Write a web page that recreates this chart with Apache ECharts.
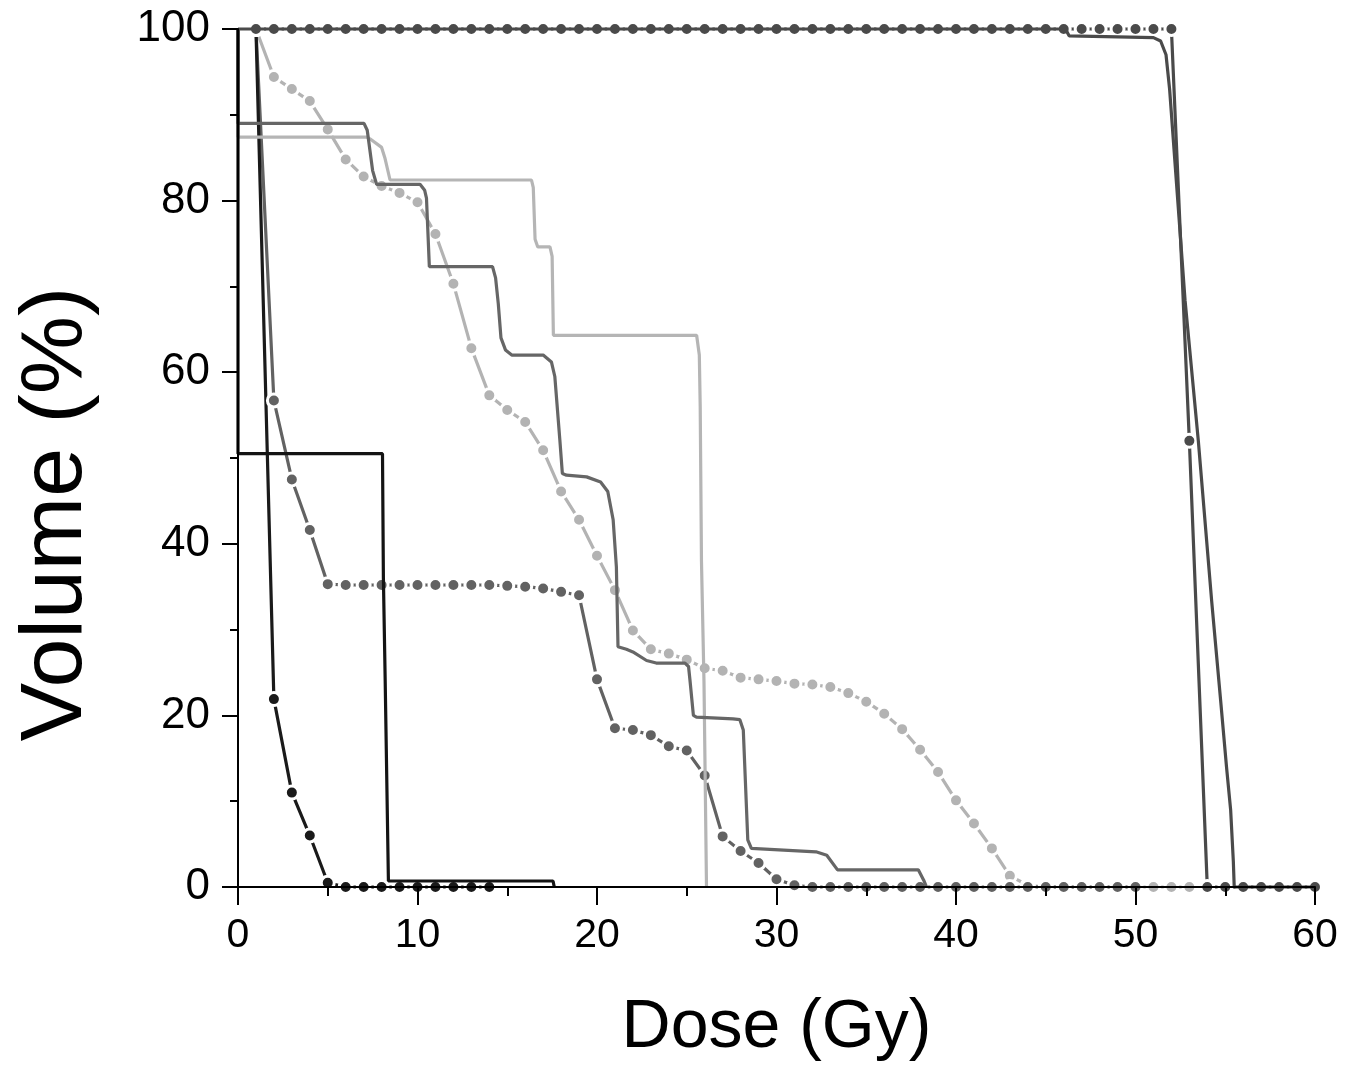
<!DOCTYPE html>
<html>
<head>
<meta charset="utf-8">
<script src="https://cdn.jsdelivr.net/npm/echarts@6/dist/echarts.min.js"></script>
<style>
html,body{margin:0;padding:0;background:#fff;}
#chart{width:1358px;height:1068px;}
</style>
</head>
<body>
<div id="chart"></div>
<script>
// Axis ticks
const xTicks = [0, 10, 20, 30, 40, 50, 60];
const yTicks = [0, 20, 40, 60, 80, 100];
const xTitle = 'Dose (Gy)';
const yTitle = 'Volume (%)';

// Dose bins (Gy) for the marker series
const binDose = [1,2,3,4,5,6,7,8,9,10,11,12,13,14,15,16,17,18,19,20,21,22,23,24,25,26,27,28,29,30,
  31,32,33,34,35,36,37,38,39,40,41,42,43,44,45,46,47,48,49,50,51,52,53,54,55,56,57,58,59,60];

// A: dark gray with markers
const volA = [100,100,100,100,100,100,100,100,100,100,100,100,100,100,100,100,100,100,100,100,
  100,100,100,100,100,100,100,100,100,100,100,100,100,100,100,100,100,100,100,100,
  100,100,100,100,100,100,100,100,100,100,100,100,52,0,0,0,0,0,0,0];
// C: medium gray with markers
const volC = [100,56.7,47.5,41.6,35.3,35.2,35.2,35.2,35.2,35.2,35.2,35.2,35.2,35.2,35.1,35.0,34.8,34.4,34.0,24.2,
  18.5,18.3,17.7,16.4,15.9,13.0,5.9,4.2,2.8,0.9,0.2,0,0,0,0,0,0,0,0,0,0,0,0,0,0,0,0,0,0,0];
// D: light gray with markers
const volD = [100,94.4,93.0,91.6,88.3,84.8,82.8,81.7,80.9,79.8,76.1,70.3,62.8,57.3,55.6,54.2,50.9,46.1,42.8,38.6,
  34.6,29.9,27.7,27.2,26.5,25.5,25.2,24.4,24.2,24.0,23.7,23.6,23.3,22.6,21.6,20.2,18.4,16.0,13.4,10.1,
  7.4,4.5,1.3,0.2,0,0,0,0,0,0,0,0,0];
// E: black with markers
const volE = [100,21.9,11.0,6.0,0.5,0,0,0,0,0,0,0,0,0];

// B: dark gray solid
const doseB = [0,46.1,46.3,51.0,51.4,51.7,51.9,52.76,53.5,54.24,54.74,55.07,55.3,55.45,55.5,60];
const volB  = [100,100,99.2,99.0,98.6,97,93,68.4,52,33.4,21.8,14,9,3,0,0];
// F: black solid
const doseF = [0,0,8.05,8.1,8.2,8.38,17.55,17.62];
const volF  = [100,50.5,50.5,36,24,0.7,0.7,0];
// G: medium gray solid
const doseG = [0,0,7.02,7.2,7.5,7.72,10.14,10.4,10.5,10.66,14.18,14.35,14.5,14.65,14.9,15.25,17.0,17.46,17.65,17.93,18.07,18.3,
  19.42,20.2,20.6,20.9,21.08,21.17,21.64,22.0,22.76,23.3,24.9,25.1,25.18,25.37,25.54,27.58,27.96,28.15,28.4,28.6,
  32.2,32.8,33.4,37.9,38.2,38.36];
const volG  = [100,89,89,88.2,83.5,81.9,81.9,81.2,80.3,72.3,72.3,71,68,64,62.6,62.0,62.0,61.2,59.5,52.1,48.2,48.0,
  47.8,47.2,46.1,42.8,37.3,28.0,27.7,27.4,26.4,26.1,26.1,25.7,24.1,20.0,19.8,19.6,19.5,18.3,5.5,4.5,
  4.1,3.7,2.0,2.0,0.8,0];
// H: light gray solid
const doseH = [0,0,7.17,7.35,8.0,8.18,8.47,16.35,16.45,16.55,16.7,17.38,17.5,17.57,25.55,25.7,25.75,25.82,25.96,26.1];
const volH  = [100,87.4,87.4,87.2,86.2,85.0,82.4,82.4,81.5,75.5,74.6,74.6,73.5,64.3,64.3,62,56,38,24,0];

function pairs(xs, ys){ return ys.map((y,i)=>[xs[i], y]); }

function markerSeries(name, vols, color, z){
  return {
    name, type:'line', data: pairs(binDose, vols), z,
    symbol:'circle', symbolSize:13, showSymbol:true, clip:false,
    lineStyle:{color, width:3.2},
    itemStyle:{color, borderColor:'#ffffff', borderWidth:3},
    emphasis:{disabled:true}
  };
}
function solidSeries(name, xs, ys, color, z){
  return {
    name, type:'line', data: pairs(xs, ys), z,
    symbol:'none', showSymbol:false, clip:false,
    lineStyle:{color, width:3.2},
    emphasis:{disabled:true}
  };
}

const chart = echarts.init(document.getElementById('chart'), null, {renderer:'canvas'});
const font = 'Liberation Sans, Arial, sans-serif';
chart.setOption({
  animation:false,
  backgroundColor:'#ffffff',
  grid:{left:238, right:43, top:29, bottom:181, containLabel:false},
  graphic:[{
    type:'text', x:57, y:514, rotation:Math.PI/2, z:20,
    style:{text:yTitle, font:'88px ' + font, fill:'#000', textAlign:'center', textVerticalAlign:'middle'}
  }],
  xAxis:{
    type:'value', min:xTicks[0], max:xTicks[xTicks.length-1], interval:10, z:10,
    name:xTitle, nameLocation:'middle', nameGap:107,
    nameTextStyle:{fontFamily:font, fontSize:68, color:'#000'},
    axisLine:{show:true, lineStyle:{color:'#000', width:2}},
    axisTick:{show:true, inside:false, length:18, lineStyle:{color:'#000', width:2}},
    minorTick:{show:true, splitNumber:2, length:9, lineStyle:{color:'#000', width:2}},
    axisLabel:{fontFamily:font, fontSize:41, color:'#000', margin:28},
    splitLine:{show:false}
  },
  yAxis:{
    type:'value', min:yTicks[0], max:yTicks[yTicks.length-1], interval:20, z:10,
    axisLine:{show:true, lineStyle:{color:'#000', width:2}},
    axisTick:{show:true, inside:false, length:16, lineStyle:{color:'#000', width:2}},
    minorTick:{show:true, splitNumber:2, length:8, lineStyle:{color:'#000', width:2}},
    axisLabel:{fontFamily:font, fontSize:44, color:'#000', margin:28},
    splitLine:{show:false}
  },
  series:[
    markerSeries('D', volD, '#b3b3b3', 2),
    markerSeries('C', volC, '#626262', 2),
    markerSeries('E', volE, '#1a1a1a', 2),
    markerSeries('A', volA, '#4a4a4a', 2),
    solidSeries('H', doseH, volH, '#b5b5b5', 3),
    solidSeries('G', doseG, volG, '#666666', 3),
    solidSeries('F', doseF, volF, '#141414', 3),
    solidSeries('B', doseB, volB, '#4a4a4a', 3)
  ]
});
</script>
</body>
</html>
